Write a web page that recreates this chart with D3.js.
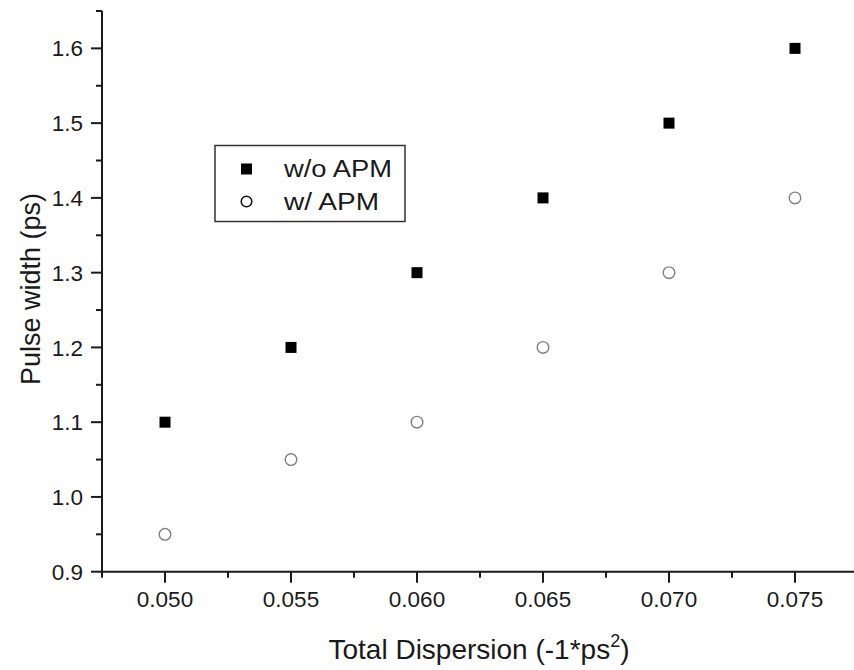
<!DOCTYPE html>
<html>
<head>
<meta charset="utf-8">
<script src="https://cdn.jsdelivr.net/npm/d3@7"></script>
<style>
  html, body { margin: 0; padding: 0; background: #fff; }
  svg { display: block; font-family: "Liberation Sans", Arial, sans-serif; }
</style>
</head>
<body>
<script>
// Total dispersion (x) vs. measured pulse width (y)
const dispersion = [0.050, 0.055, 0.060, 0.065, 0.070, 0.075];
const widthNoAPM = [1.10, 1.20, 1.30, 1.40, 1.50, 1.60];
const widthAPM   = [0.95, 1.05, 1.10, 1.20, 1.30, 1.40];
const xTicks = [0.050, 0.055, 0.060, 0.065, 0.070, 0.075];
const yTicks = [0.9, 1.0, 1.1, 1.2, 1.3, 1.4, 1.5, 1.6];
const seriesNames = ["w/o APM", "w/ APM"];

const W = 854, H = 670;
const svg = d3.select("body").append("svg").attr("width", W).attr("height", H);

const x = d3.scaleLinear().domain([0.0475, 0.0775]).range([102, 858]);
const y = d3.scaleLinear().domain([0.9, 1.65]).range([571.7, 11]);

const axisColor = "#1a1a1a";
const textColor = "#1a1a1a";

// minor ticks halfway between the major ones
const xMinor = d3.range(0.0475, 0.0776, 0.005);
const yMinor = d3.range(0.95, 1.651, 0.1);

// x axis
const gx = svg.append("g").attr("transform", `translate(0,${y.range()[0]})`);
gx.append("line").attr("x1", x.range()[0]).attr("x2", W)
  .attr("stroke", axisColor).attr("stroke-width", 2);
gx.selectAll(".minor").data(xMinor).join("line")
  .attr("x1", d => x(d)).attr("x2", d => x(d)).attr("y1", 0).attr("y2", 6)
  .attr("stroke", axisColor).attr("stroke-width", 2);
gx.selectAll(".major").data(xTicks).join("line")
  .attr("x1", d => x(d)).attr("x2", d => x(d)).attr("y1", 0).attr("y2", 11)
  .attr("stroke", axisColor).attr("stroke-width", 2);
gx.selectAll("text").data(xTicks).join("text")
  .attr("x", d => x(d)).attr("y", 35.5)
  .attr("text-anchor", "middle").attr("font-size", 22.5).attr("fill", textColor)
  .text(d => d3.format(".3f")(d));

// y axis
const gy = svg.append("g").attr("transform", `translate(${x.range()[0]},0)`);
gy.append("line").attr("y1", y.range()[0]).attr("y2", y.range()[1])
  .attr("stroke", axisColor).attr("stroke-width", 2);
gy.selectAll(".minor").data(yMinor).join("line")
  .attr("y1", d => y(d)).attr("y2", d => y(d)).attr("x1", 0).attr("x2", -6)
  .attr("stroke", axisColor).attr("stroke-width", 2);
gy.selectAll(".major").data(yTicks).join("line")
  .attr("y1", d => y(d)).attr("y2", d => y(d)).attr("x1", 0).attr("x2", -11)
  .attr("stroke", axisColor).attr("stroke-width", 2);
gy.selectAll("text").data(yTicks).join("text")
  .attr("x", -19).attr("y", d => y(d)).attr("dy", "0.36em")
  .attr("text-anchor", "end").attr("font-size", 22.5).attr("fill", textColor)
  .text(d => d3.format(".1f")(d));

// axis titles
const xt = svg.append("text").attr("x", 479).attr("y", 659)
  .attr("text-anchor", "middle").attr("font-size", 28).attr("fill", textColor);
xt.append("tspan").text("Total Dispersion (-1*ps");
xt.append("tspan").attr("font-size", 18).attr("dy", -12).text("2");
xt.append("tspan").attr("dy", 12).text(")");

svg.append("text")
  .attr("transform", "translate(40,289) rotate(-90)")
  .attr("text-anchor", "middle").attr("font-size", 27).attr("fill", textColor)
  .text("Pulse width (ps)");

// data markers
const sq = 11;
svg.append("g").selectAll("rect").data(dispersion).join("rect")
  .attr("x", (d) => x(d) - sq / 2)
  .attr("y", (d, i) => y(widthNoAPM[i]) - sq / 2)
  .attr("width", sq).attr("height", sq).attr("fill", "#000");

svg.append("g").selectAll("circle").data(dispersion).join("circle")
  .attr("cx", d => x(d))
  .attr("cy", (d, i) => y(widthAPM[i]))
  .attr("r", 5.8).attr("fill", "#fff").attr("stroke", "#808080").attr("stroke-width", 1.4);

// legend
const lg = svg.append("g");
lg.append("rect").attr("x", 215).attr("y", 145.5).attr("width", 190).attr("height", 76)
  .attr("fill", "#fff").attr("stroke", "#333").attr("stroke-width", 1.5);
lg.append("rect").attr("x", 246.5 - sq / 2).attr("y", 169 - sq / 2)
  .attr("width", sq).attr("height", sq).attr("fill", "#000");
lg.append("circle").attr("cx", 246.5).attr("cy", 201.5).attr("r", 5.3)
  .attr("fill", "#fff").attr("stroke", "#111").attr("stroke-width", 1.5);
lg.selectAll("text").data(seriesNames).join("text")
  .attr("x", 284).attr("y", (d, i) => 177 + i * 33)
  .attr("font-size", 23).attr("fill", textColor)
  .attr("textLength", (d, i) => i === 0 ? 108 : 95)
  .attr("lengthAdjust", "spacingAndGlyphs")
  .text(d => d);
</script>
</body>
</html>
